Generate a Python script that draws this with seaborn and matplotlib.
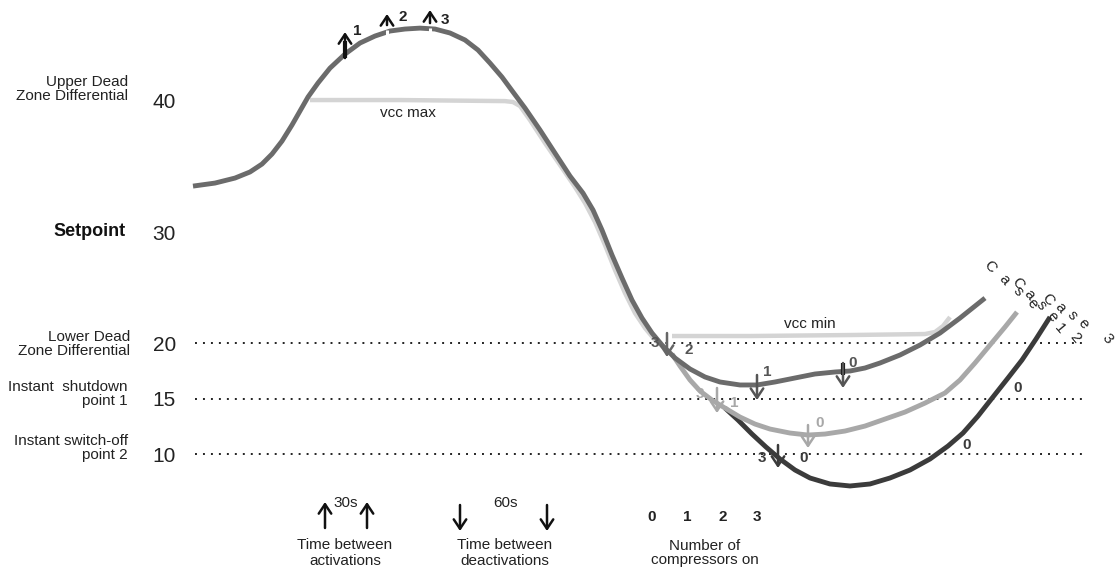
import numpy as np
import pandas as pd
import matplotlib
matplotlib.use('Agg')
import matplotlib.pyplot as plt
import seaborn as sns

sns.set_style('white')
plt.rcParams['font.family'] = ['Liberation Sans', 'DejaVu Sans']

# y axis: temperature, x axis: time (arbitrary units)
tick_vals = [10, 15, 20, 30, 40]
tick_labels = ['10', '15', '20', '30', '40']
dotted_levels = [10, 15, 20]

# main curve (case 1)
case1_t = [193, 215, 235, 250, 262, 272, 282, 292, 300, 308, 318, 330, 345, 360, 375, 390, 405,
           420, 435, 450, 465, 478, 490, 502, 513, 525, 540, 555, 570, 583, 593, 602, 612, 622,
           632, 642, 652, 662, 675, 690, 705, 720, 740, 757, 775, 795, 815, 835, 850, 865, 880,
           900, 920, 940, 960, 975, 985]
case1_v = [33.48, 33.71, 34.09, 34.55, 35.15, 35.91, 36.89, 38.11, 39.17, 40.23, 41.29, 42.42,
           43.48, 44.32, 44.85, 45.23, 45.38, 45.45, 45.38, 45.08, 44.55, 43.79, 42.80, 41.74,
           40.61, 39.39, 37.73, 35.98, 34.24, 32.95, 31.67, 30.15, 27.93, 25.86, 23.87, 22.25,
           20.90, 19.82, 18.65, 17.66, 16.94, 16.49, 16.22, 16.22, 16.49, 16.85, 17.21, 17.39,
           17.48, 17.75, 18.20, 18.92, 19.82, 20.90, 22.25, 23.33, 24.05]

# case 2
case2_t = [672, 680, 690, 700, 712, 725, 740, 755, 770, 790, 808, 825, 845, 865, 885, 905, 925,
           945, 960, 975, 990, 1005, 1017]
case2_v = [19.01, 17.93, 16.67, 15.68, 14.86, 14.14, 13.33, 12.70, 12.25, 11.89, 11.71, 11.80,
           12.07, 12.52, 13.15, 13.78, 14.59, 15.50, 16.67, 18.20, 19.82, 21.44, 22.79]

# case 3
case3_t = [725, 738, 752, 766, 780, 795, 810, 830, 850, 870, 890, 910, 930, 948, 963, 978, 993,
           1008, 1022, 1036, 1050]
case3_v = [14.14, 13.06, 11.80, 10.63, 9.55, 8.56, 7.84, 7.30, 7.12, 7.30, 7.84, 8.56, 9.55,
           10.72, 11.89, 13.42, 15.14, 16.85, 18.47, 20.36, 22.34]

# vcc max / vcc min
vmax_t = [310, 400, 505, 513, 520, 530, 545, 560, 575, 585, 595, 605, 615, 625, 635, 645, 655, 663]
vmax_v = [40.0, 40.0, 39.92, 39.85, 39.55, 38.48, 36.74, 35.08, 33.41, 32.20, 30.76, 28.83,
          26.58, 24.50, 22.70, 21.35, 20.27, 19.64]
vmin_t = [672, 750, 850, 925, 935, 943, 950]
vmin_v = [20.63, 20.63, 20.72, 20.81, 20.99, 21.53, 22.34]

# activation arrows (up) on main curve: time, tail, head
up_t = [345, 387, 430]
up_tail = [43.18, 45.68, 45.83]
up_head = [45.15, 46.52, 46.82]

# deactivation arrows (down): time, tail, head, colour
dn_t = [667, 757, 843, 717, 808, 778]
dn_tail = [20.90, 17.12, 18.20, 15.95, 12.61, 10.81]
dn_head = [18.74, 14.86, 15.95, 13.69, 10.54, 8.74]
dn_col = ['#666666', '#555555', '#555555', '#a8a8a8', '#a8a8a8', '#3b3b3b']

W, H = 1118, 569
fig = plt.figure(figsize=(W / 100, H / 100), dpi=100)
ax = fig.add_axes([190 / W, 0, (W - 190) / W, 1])

V = [-20, 10, 20, 30, 40, 70]
P = [-787, -454, -343, -232, -100, 296]
ax.set_yscale('function', functions=(lambda v: np.interp(v, V, P), lambda p: np.interp(p, P, V)))
ax.set_xlim(190, W)
ax.set_ylim(-0.36, 47.58)

for s in ax.spines.values():
    s.set_visible(False)
ax.set_xticks([])
ax.set_yticks(tick_vals, tick_labels)
ax.tick_params(axis='y', length=0, pad=10, labelsize=15, labelcolor='#222222')

ax.hlines(dotted_levels, 195, 1087, colors='#222222', lw=1.4, linestyles=(0, (1, 3.1)))

def curve(t, v, color, lw):
    df = pd.DataFrame({'t': t, 'v': v})
    sns.lineplot(data=df, x='t', y='v', sort=False, estimator=None, color=color, lw=lw, ax=ax,
                 solid_capstyle='butt', solid_joinstyle='round')

curve(vmax_t, vmax_v, '#d4d4d4', 3.2)
curve(vmin_t, vmin_v, '#d4d4d4', 3.2)
curve(case3_t, case3_v, '#3b3b3b', 3.5)
curve(case2_t, case2_v, '#a8a8a8', 3.5)
curve(case1_t, case1_v, '#6b6b6b', 3.5)
ax.set_xlabel('')
ax.set_ylabel('')

head = '->, head_length=0.45, head_width=0.3'

# up arrows on top
ax.plot([345, 345], [43.18, 44.5], color='#111111', lw=3, solid_capstyle='butt')
for t, a, b in zip(up_t[1:], [44.62, 44.85], [45.30, 45.45]):
    ax.plot([t, t], [a, b], color='white', lw=2.2, solid_capstyle='butt')
for t, a, b in zip(up_t, up_tail, up_head):
    ax.annotate('', xy=(t, b), xytext=(t, a),
                arrowprops=dict(arrowstyle=head, lw=1.8, color='#111111', mutation_scale=15,
                                shrinkA=0, shrinkB=0))

# down arrows
ax.plot([843, 843], [18.20, 17.12], color='#111111', lw=3, solid_capstyle='butt')
for t, a, b, c in zip(dn_t, dn_tail, dn_head, dn_col):
    ax.annotate('', xy=(t, b), xytext=(t, a),
                arrowprops=dict(arrowstyle=head, lw=1.8, color=c, mutation_scale=15,
                                shrinkA=0, shrinkB=0))

def ftext(x, y, s, **kw):
    fig.text(x / W, 1 - y / H, s, **kw)

# left descriptions
desc = dict(ha='right', va='center', fontsize=11, linespacing=0.95, color='#222222',
            multialignment='right')
ftext(128, 89, 'Upper Dead\nZone Differential', **desc)
ftext(126, 232, 'Setpoint', ha='right', va='center', fontsize=13, fontweight='bold', color='#111111')
ftext(130, 344, 'Lower Dead\nZone Differential', **desc)
ftext(128, 394, 'Instant  shutdown\npoint 1', **desc)
ftext(128, 448, 'Instant switch-off\npoint 2', **desc)

ftext(408, 113, 'vcc max', ha='center', va='center', fontsize=11, color='#222222')
ftext(810, 324, 'vcc min', ha='center', va='center', fontsize=11, color='#222222')

num = dict(ha='center', va='center', fontsize=11, fontweight='bold')
for x, y, s, c in [(357, 31, '1', '#222222'), (403, 17, '2', '#222222'), (445, 20, '3', '#222222'),
                   (655, 343, '3', '#555555'), (689, 350, '2', '#555555'), (767, 372, '1', '#555555'),
                   (853, 363, '0', '#555555'), (700, 394, '3', '#a8a8a8'), (734, 403, '1', '#a8a8a8'),
                   (820, 423, '0', '#a8a8a8'), (762, 458, '3', '#3b3b3b'), (804, 458, '0', '#3b3b3b'),
                   (967, 445, '0', '#3b3b3b'), (1018, 388, '0', '#3b3b3b')]:
    ftext(x, y, s, color=c, **num)

# case labels, one rotated character at a time
for word, (x0, y0), (dx, dy) in [('Case 1', (990, 267), (14, 12.3)),
                                 ('Case 2', (1018, 284), (11.5, 10.8)),
                                 ('Case 3', (1048, 300), (11.8, 7.8))]:
    for i, ch in enumerate(word):
        ftext(x0 + i * dx, y0 + i * dy, ch, ha='center', va='center', fontsize=11,
              rotation=-50, color='#222222')

# bottom legend
def farrow(x, y1, y2):
    fig.add_artist(matplotlib.patches.FancyArrowPatch(
        (x / W, 1 - y1 / H), (x / W, 1 - y2 / H), transform=fig.transFigure,
        arrowstyle=head, lw=1.8, color='#111111', mutation_scale=15, shrinkA=0, shrinkB=0))

farrow(325, 528, 502)
farrow(367, 528, 502)
farrow(460, 505, 531)
farrow(547, 505, 531)
ftext(346, 503, '30s', ha='center', va='center', fontsize=11, color='#222222')
ftext(506, 503, '60s', ha='center', va='center', fontsize=11, color='#222222')
for x, s in zip([652, 687, 723, 757], ['0', '1', '2', '3']):
    ftext(x, 517, s, ha='center', va='center', fontsize=11, fontweight='bold', color='#222222')
leg = dict(ha='center', va='center', fontsize=11, color='#222222')
ftext(345, 553, 'Time between\nactivations', linespacing=1.1, **leg)
ftext(505, 553, 'Time between\ndeactivations', linespacing=1.1, **leg)
ftext(705, 553, 'Number of\ncompressors on', linespacing=1.0, **leg)

fig.savefig('out.png', dpi=100)
